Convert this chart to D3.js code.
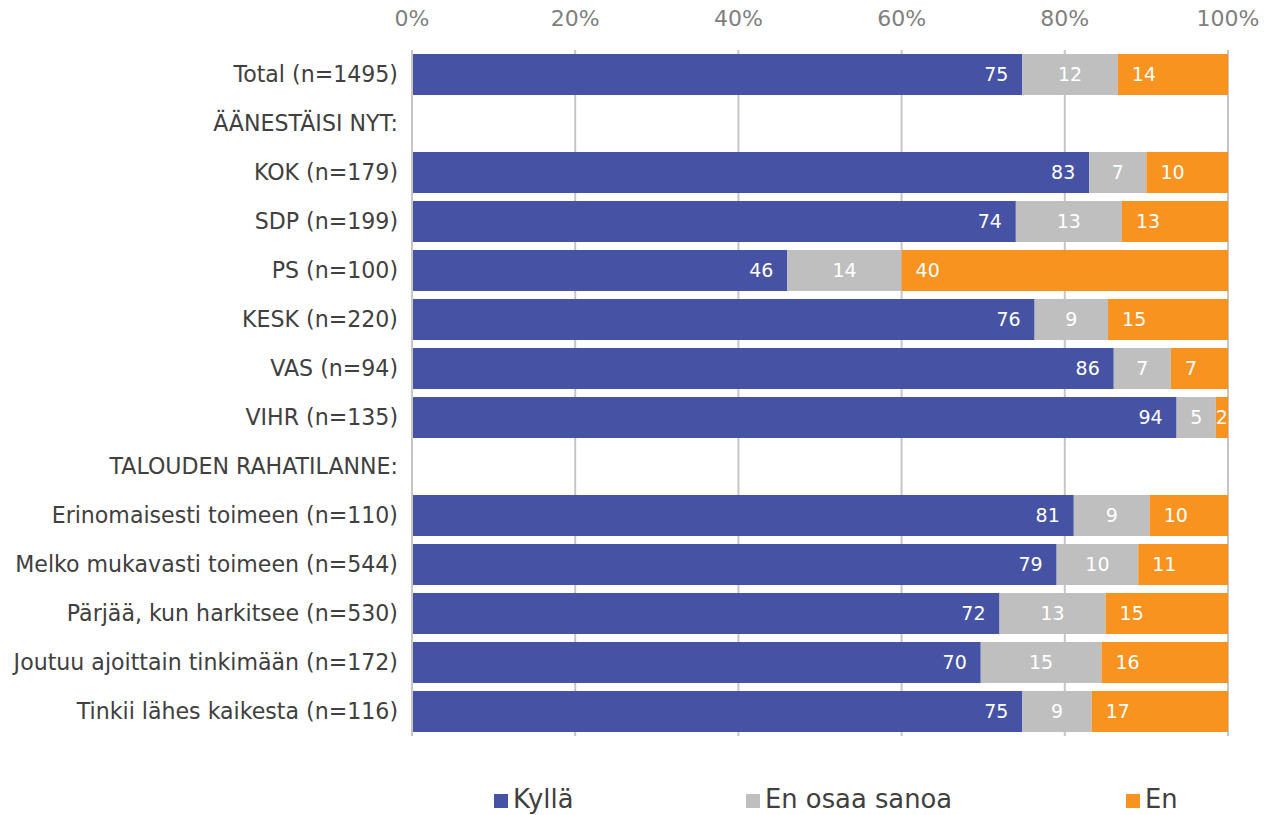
<!DOCTYPE html>
<html>
<head>
<meta charset="utf-8">
<script src="https://cdn.jsdelivr.net/npm/d3@7"></script>
<style>
  body { margin: 0; background: #fff; }
  svg { display: block; font-family: Verdana, "DejaVu Sans", sans-serif; }
</style>
</head>
<body>
<svg id="chart" width="1264" height="815"></svg>
<script>
"use strict";

// ===== Data =====
const categories = [
  "Total (n=1495)",
  "ÄÄNESTÄISI NYT:",
  "KOK (n=179)",
  "SDP (n=199)",
  "PS (n=100)",
  "KESK (n=220)",
  "VAS (n=94)",
  "VIHR (n=135)",
  "TALOUDEN RAHATILANNE:",
  "Erinomaisesti toimeen (n=110)",
  "Melko mukavasti toimeen (n=544)",
  "Pärjää, kun harkitsee (n=530)",
  "Joutuu ajoittain tinkimään (n=172)",
  "Tinkii lähes kaikesta (n=116)"
];
// shares in %, null = header row without bar
const kylla = [74.8, null, 83, 74, 46, 76.3, 86, 93.7, null, 81.1, 79, 72, 69.7, 74.8];
const eos   = [11.7, null, 7, 13, 14, 9, 7, 4.8, null, 9.3, 10, 13, 14.8, 8.5];
const en    = [13.5, null, 10, 13, 40, 14.7, 7, 1.5, null, 9.6, 11, 15, 15.5, 16.7];

const seriesNames  = ["Kyllä", "En osaa sanoa", "En"];
const seriesColors = ["#4653a5", "#bfbfbf", "#f7931e"];
const tickValues   = [0, 20, 40, 60, 80, 100];

// ===== Layout =====
const margin = { top: 50, right: 36, bottom: 79, left: 412 };
const width  = 1264;
const height = 815;
const legendX = [494, 746, 1126];

const svg = d3.select("#chart");

const x = d3.scaleLinear()
  .domain([0, 100])
  .range([margin.left, width - margin.right]);

const y = d3.scaleBand()
  .domain(categories)
  .range([margin.top, height - margin.bottom])
  .paddingInner(0.163)
  .paddingOuter(0.0815);

// Gridlines
svg.append("g").attr("class", "grid")
  .selectAll("line")
  .data(tickValues)
  .join("line")
  .attr("x1", d => x(d)).attr("x2", d => x(d))
  .attr("y1", margin.top).attr("y2", height - margin.bottom)
  .attr("stroke", "#c6c6c6")
  .attr("stroke-width", 2);

// Top tick labels
svg.append("g")
  .selectAll("text")
  .data(tickValues)
  .join("text")
  .attr("x", d => x(d))
  .attr("y", 18)
  .attr("dy", "0.35em")
  .attr("text-anchor", "middle")
  .attr("fill", "#7f7f7f")
  .style("font-size", "22px")
  .text(d => d + "%");

// Category labels
svg.append("g")
  .selectAll("text")
  .data(categories)
  .join("text")
  .attr("x", margin.left - 14)
  .attr("y", d => y(d) + y.bandwidth() / 2)
  .attr("dy", "0.35em")
  .attr("text-anchor", "end")
  .attr("fill", "#404040")
  .style("font-size", "22.1px")
  .text(d => d);

// Stack
const rows = categories.map((c, i) => ({ cat: c, vals: [kylla[i], eos[i], en[i]] }))
  .filter(r => r.vals[0] != null);

const segs = [];
rows.forEach(r => {
  let acc = 0;
  r.vals.forEach((v, k) => {
    segs.push({ cat: r.cat, k, v, x0: acc, x1: acc + v });
    acc += v;
  });
});

svg.append("g").attr("class", "bars")
  .selectAll("rect")
  .data(segs)
  .join("rect")
  .attr("x", d => x(d.x0))
  .attr("y", d => y(d.cat))
  .attr("width", d => x(d.x1) - x(d.x0))
  .attr("height", y.bandwidth())
  .attr("fill", d => seriesColors[d.k]);

// Value labels
const fmt = d3.format(".0f");
const pad = 14;
const labels = svg.append("g").attr("class", "labels")
  .selectAll("text")
  .data(segs)
  .join("text")
  .attr("y", d => y(d.cat) + y.bandwidth() / 2)
  .attr("dy", "0.35em")
  .attr("fill", "#fff")
  .style("font-size", "19px")
  .text(d => fmt(d.v));

labels.each(function(d) {
  const t = d3.select(this);
  const w = this.getComputedTextLength();
  const segW = x(d.x1) - x(d.x0);
  const mid = (x(d.x0) + x(d.x1)) / 2;
  if (d.k === 1 || segW < w + 2 * pad) {
    t.attr("x", mid).attr("text-anchor", "middle");
  } else if (d.k === 0) {
    t.attr("x", x(d.x1) - pad).attr("text-anchor", "end");
  } else {
    t.attr("x", x(d.x0) + pad).attr("text-anchor", "start");
  }
});

// Left axis line
svg.append("line")
  .attr("x1", margin.left).attr("x2", margin.left)
  .attr("y1", margin.top).attr("y2", height - margin.bottom)
  .attr("stroke", "#c6c6c6")
  .attr("stroke-width", 2);

// Legend
const legend = svg.append("g").attr("class", "legend")
  .selectAll("g")
  .data(seriesNames)
  .join("g")
  .attr("transform", (d, i) => `translate(${legendX[i]},799)`);

legend.append("rect")
  .attr("x", 0).attr("y", -5)
  .attr("width", 14).attr("height", 14)
  .attr("fill", (d, i) => seriesColors[i]);

legend.append("text")
  .attr("x", 19)
  .attr("dy", "0.35em")
  .attr("fill", "#404040")
  .style("font-size", "25.8px")
  .text(d => d);
</script>
</body>
</html>
